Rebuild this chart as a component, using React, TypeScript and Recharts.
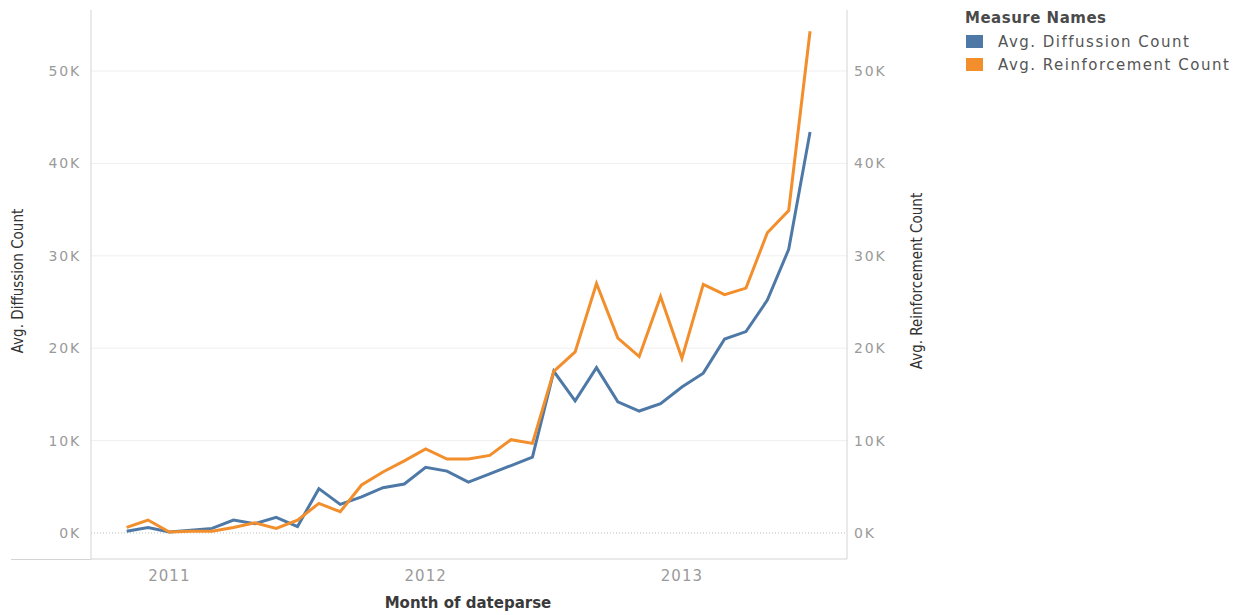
import React from 'react';
import { LineChart, Line, XAxis, YAxis, ReferenceLine } from 'recharts';

const months = [
  '2010-11', '2010-12',
  '2011-01', '2011-02', '2011-03', '2011-04', '2011-05', '2011-06', '2011-07', '2011-08', '2011-09', '2011-10', '2011-11', '2011-12',
  '2012-01', '2012-02', '2012-03', '2012-04', '2012-05', '2012-06', '2012-07', '2012-08', '2012-09', '2012-10', '2012-11', '2012-12',
  '2013-01', '2013-02', '2013-03', '2013-04', '2013-05', '2013-06', '2013-07',
];

const diffusion = [
  200, 600, 100, 300, 500, 1400, 1000, 1700, 700, 4800, 3100, 3900, 4900, 5300,
  7100, 6700, 5500, 6400, 7300, 8200, 17500, 14300, 17900, 14200, 13200, 14000,
  15800, 17300, 21000, 21800, 25200, 30700, 43400,
];

const reinforcement = [
  600, 1400, 100, 200, 200, 600, 1100, 500, 1400, 3200, 2300, 5200, 6600, 7800,
  9100, 8000, 8000, 8400, 10100, 9700, 17500, 19600, 27000, 21100, 19100, 25600,
  18900, 26900, 25800, 26500, 32500, 34900, 54300,
];

const yearLabels = ['2011', '2012', '2013'];
const yTicks = [0, 10000, 20000, 30000, 40000, 50000];

const BLUE = '#4e79a7';
const ORANGE = '#f28e2b';

const data = months.map((m, i) => ({
  idx: i,
  month: m,
  diffusion: diffusion[i],
  reinforcement: reinforcement[i],
}));

const yearTickIdx = yearLabels.map((y) => months.indexOf(`${y}-01`));

const tickFont = {
  fontFamily: '"DejaVu Sans", sans-serif',
  fontSize: 14,
  fill: '#9a9a9a',
  letterSpacing: 1.8,
};

const kFmt = (v: number) => `${Math.round(v / 1000)}K`;

export default function App() {
  return (
    <div style={{ position: 'absolute', left: 0, top: 0, width: 1238, height: 615, background: '#fff' }}>
      <LineChart
        width={1238}
        height={615}
        data={data}
        margin={{ top: 10, left: 31, right: 331, bottom: 26 }}
      >
        <XAxis
          dataKey="idx"
          type="number"
          domain={[-1.67, 33.73]}
          allowDataOverflow
          ticks={yearTickIdx}
          tickFormatter={(v: number) => yearLabels[yearTickIdx.indexOf(v)] ?? ''}
          height={30}
          tickSize={0}
          tickMargin={11}
          axisLine={{ stroke: '#d4d4d4' }}
          tick={{ ...tickFont, fontSize: 15, letterSpacing: 1 }}
        />
        <YAxis
          yAxisId="left"
          orientation="left"
          width={60}
          domain={[-2814, 56602]}
          allowDataOverflow
          ticks={yTicks}
          tickFormatter={kFmt}
          tickSize={0}
          tickMargin={10}
          axisLine={{ stroke: '#d4d4d4' }}
          tick={tickFont}
        />
        <YAxis
          yAxisId="right"
          orientation="right"
          width={60}
          domain={[-2814, 56602]}
          allowDataOverflow
          ticks={yTicks}
          tickFormatter={kFmt}
          tickSize={0}
          tickMargin={7}
          axisLine={{ stroke: '#d4d4d4' }}
          tick={tickFont}
        />
        {yTicks.filter((t) => t !== 0).map((t) => (
          <ReferenceLine key={t} yAxisId="left" y={t} stroke="#efefef" strokeWidth={1} />
        ))}
        <ReferenceLine yAxisId="left" y={0} stroke="#bdbdbd" strokeWidth={1} strokeDasharray="1 2" />
        <Line
          yAxisId="left"
          type="linear"
          dataKey="diffusion"
          stroke={BLUE}
          strokeWidth={3}
          dot={false}
          isAnimationActive={false}
        />
        <Line
          yAxisId="right"
          type="linear"
          dataKey="reinforcement"
          stroke={ORANGE}
          strokeWidth={3}
          dot={false}
          isAnimationActive={false}
        />
      </LineChart>

      {/* extension of the bottom axis line under the left axis area */}
      <div style={{ position: 'absolute', left: 11, top: 559, width: 80, height: 1, background: '#d4d4d4' }} />

      {/* axis titles */}
      <div
        style={{
          position: 'absolute', left: 18, top: 281, transform: 'translate(-50%, -50%) rotate(-90deg)',
          whiteSpace: 'nowrap', fontFamily: '"Liberation Sans Narrow", "DejaVu Sans Condensed", sans-serif',
          fontSize: 15, color: '#333',
        }}
      >
        Avg. Diffussion Count
      </div>
      <div
        style={{
          position: 'absolute', left: 917, top: 281, transform: 'translate(-50%, -50%) rotate(-90deg)',
          whiteSpace: 'nowrap', fontFamily: '"Liberation Sans Narrow", "DejaVu Sans Condensed", sans-serif',
          fontSize: 15, color: '#333',
        }}
      >
        Avg. Reinforcement Count
      </div>
      <div
        style={{
          position: 'absolute', left: 468, top: 603, transform: 'translate(-50%, -50%)',
          whiteSpace: 'nowrap', fontFamily: '"DejaVu Sans", sans-serif', fontSize: 15, fontWeight: 600, color: '#3a3a3a',
        }}
      >
        Month of dateparse
      </div>

      {/* legend */}
      <div style={{ position: 'absolute', left: 965, top: 8, fontFamily: '"DejaVu Sans", sans-serif', color: '#444' }}>
        <div style={{ fontSize: 15, fontWeight: 'bold', letterSpacing: 0.5, height: 22, lineHeight: '20px', color: '#4a4a4a' }}>
          Measure Names
        </div>
        {[
          { name: 'Avg. Diffussion Count', color: BLUE },
          { name: 'Avg. Reinforcement Count', color: ORANGE },
        ].map((it) => (
          <div key={it.name} style={{ display: 'flex', alignItems: 'center', height: 23 }}>
            <div style={{ width: 17, height: 13, background: it.color, marginLeft: 1, marginRight: 15 }} />
            <span style={{ fontSize: 15, letterSpacing: 1.5, color: '#555' }}>{it.name}</span>
          </div>
        ))}
      </div>
    </div>
  );
}
